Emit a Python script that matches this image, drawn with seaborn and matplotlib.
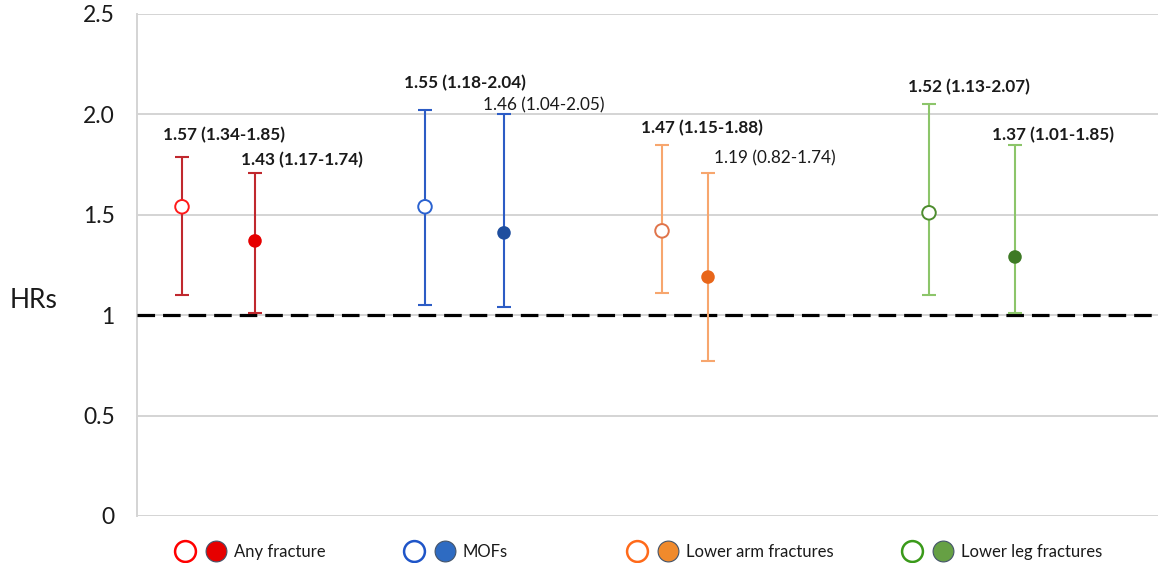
import numpy as np
import pandas as pd
import seaborn as sns
import matplotlib
matplotlib.use("Agg")
from matplotlib import pyplot as plt
from matplotlib.lines import Line2D
from matplotlib.legend_handler import HandlerTuple

# values (open = first estimate, filled = second estimate per fracture site)
groups = ["Any fracture", "MOFs", "Lower arm fractures", "Lower leg fractures"]
group_of_point = ["Any fracture", "Any fracture", "MOFs", "MOFs",
                  "Lower arm fractures", "Lower arm fractures",
                  "Lower leg fractures", "Lower leg fractures"]
kind = ["open", "filled"] * 4
x_pos = [0.45, 1.18, 2.88, 3.67, 5.25, 5.71, 7.92, 8.78]
hr = [1.54, 1.37, 1.54, 1.41, 1.42, 1.19, 1.51, 1.29]
ci_low = [1.10, 1.01, 1.05, 1.04, 1.11, 0.77, 1.10, 1.01]
ci_high = [1.79, 1.71, 2.02, 2.00, 1.85, 1.71, 2.05, 1.85]
hr_labels = ["1.57 (1.34-1.85)", "1.43 (1.17-1.74)", "1.55 (1.18-2.04)", "1.46 (1.04-2.05)",
             "1.47 (1.15-1.88)", "1.19 (0.82-1.74)", "1.52 (1.13-2.07)", "1.37 (1.01-1.85)"]
label_bold = [True, True, True, False, True, False, True, True]
yticks = [0, 0.5, 1, 1.5, 2.0, 2.5]
ytick_labels = ["0", "0.5", "1", "1.5", "2.0", "2.5"]

# label placement (layout only)
label_dx = [0.42, 0.47, 0.40, 0.40, 0.40, 0.67, 0.40, 0.38]
label_y = [1.897, 1.773, 2.156, 2.047, 1.932, 1.783, 2.136, 1.897]

bar_colors = {"Any fracture": "#c0282e", "MOFs": "#2c5cc5",
              "Lower arm fractures": "#f7a66e", "Lower leg fractures": "#8cc56a"}
cap_colors = {"Any fracture": "#c0282e", "MOFs": "#2c5cc5",
              "Lower arm fractures": "#f5b73a", "Lower leg fractures": "#8cc56a"}
open_colors = {"Any fracture": "#ff1a1a", "MOFs": "#2a62d0",
               "Lower arm fractures": "#e0744a", "Lower leg fractures": "#4d8c2e"}
filled_colors = {"Any fracture": "#e60000", "MOFs": "#1f4e9e",
                 "Lower arm fractures": "#e8661a", "Lower leg fractures": "#3e7a25"}
leg_open = {"Any fracture": "#ff0000", "MOFs": "#1f55c8",
            "Lower arm fractures": "#ff6a1a", "Lower leg fractures": "#3a9a1a"}
leg_filled = {"Any fracture": "#e60000", "MOFs": "#2e6bc2",
              "Lower arm fractures": "#f08a2c", "Lower leg fractures": "#66a044"}

df = pd.DataFrame({"group": group_of_point, "kind": kind, "x": x_pos,
                   "hr": hr, "lo": ci_low, "hi": ci_high})

sns.set_style("white")
plt.rcParams["font.family"] = ["Lato", "DejaVu Sans"]

fig = plt.figure(figsize=(11.58, 5.63), dpi=100)
ax = fig.add_axes([137 / 1158, 47 / 563, 1021 / 1158, 502 / 563])

# gridlines and reference line
for y in yticks:
    ax.axhline(y, color="#d4d4d4", lw=1.4, zorder=0)
ax.axhline(1, color="black", lw=2.3, ls=(0, (5.5, 2.5)), zorder=1)

# confidence intervals
for _, r in df.iterrows():
    _, caps, _ = ax.errorbar(r["x"], r["hr"], yerr=[[r["hr"] - r["lo"]], [r["hi"] - r["hr"]]],
                             fmt="none", ecolor=bar_colors[r["group"]], elinewidth=1.5,
                             capsize=5, capthick=1.5, zorder=2)
    for c in caps:
        c.set_color(cap_colors[r["group"]])

open_df = df[df["kind"] == "open"]
filled_df = df[df["kind"] == "filled"]
sns.scatterplot(data=open_df, x="x", y="hr", color="white",
                edgecolor=[open_colors[g] for g in open_df["group"]],
                linewidth=1.4, s=95, ax=ax, zorder=3)
sns.scatterplot(data=filled_df, x="x", y="hr", hue="group", palette=filled_colors,
                linewidth=0, s=95, legend=False, ax=ax, zorder=3)

for i in range(len(hr_labels)):
    ax.text(x_pos[i] + label_dx[i], label_y[i], hr_labels[i], ha="center", va="center",
            fontsize=12.3, color="#1a1a1a", fontweight="bold" if label_bold[i] else "normal")

ax.set_xlim(0, 10.21)
ax.set_ylim(0, 2.5)
ax.set_yticks(yticks)
ax.set_yticklabels(ytick_labels, fontsize=16.5, color="#1a1a1a")
ax.set_xticks([])
ax.set_xlabel("")
ax.set_ylabel("")
ax.tick_params(axis="y", length=0, pad=16)
for s in ["top", "right", "bottom"]:
    ax.spines[s].set_visible(False)
ax.spines["left"].set_color("#d4d4d4")
ax.spines["left"].set_linewidth(1.4)
ax.spines["left"].set_zorder(0)

fig.text(10 / 1158, 1 - 300 / 563, "HRs", fontsize=19, va="center", ha="left", color="#1a1a1a")

# legend: one entry per fracture site, open + filled marker
legend_left = [174, 403, 626, 901]
for g, lx in zip(groups, legend_left):
    h_open = Line2D([], [], ls="None", marker="o", ms=15, mfc="white", mec=leg_open[g], mew=1.8)
    h_fill = Line2D([], [], ls="None", marker="o", ms=15, mfc=leg_filled[g], mec="#44546a", mew=0.8)
    fig.legend([(h_open, h_fill)], [g], handler_map={tuple: HandlerTuple(ndivide=None, pad=0.5)},
               loc="center left", bbox_to_anchor=(lx / 1158, 1 - 552 / 563), frameon=False,
               handlelength=3.2, handletextpad=0.4, borderpad=0, borderaxespad=0,
               fontsize=12, labelcolor="#1a1a1a")

plt.savefig("out.png", dpi=100)
